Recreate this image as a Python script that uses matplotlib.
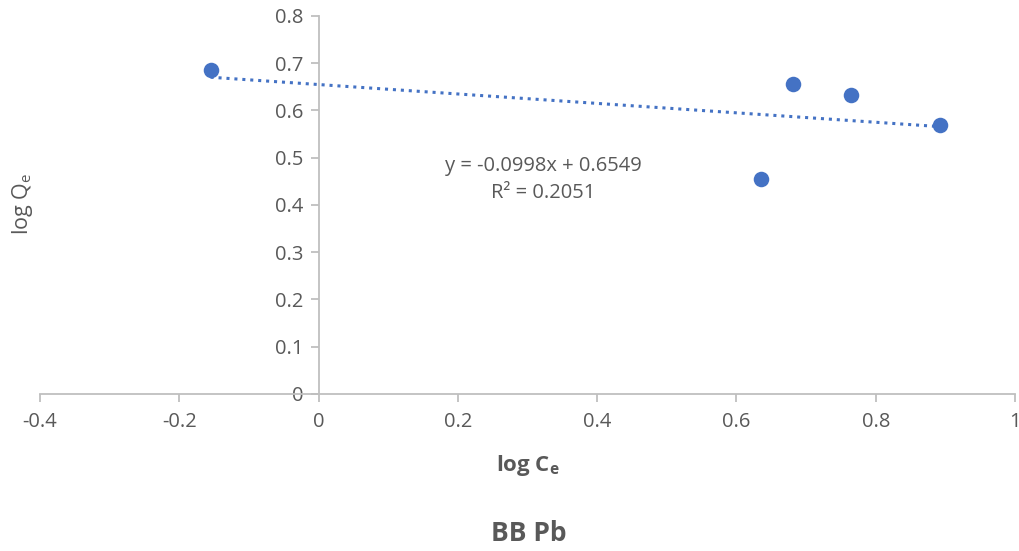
import matplotlib.pyplot as plt
import numpy as np

log_ce = [-0.155, 0.635, 0.681, 0.764, 0.892]
log_qe = [0.686, 0.455, 0.656, 0.633, 0.569]
slope = -0.0998
intercept = 0.6549
r_squared = 0.2051

x_ticks = [-0.4, -0.2, 0, 0.2, 0.4, 0.6, 0.8, 1]
y_ticks = [0, 0.1, 0.2, 0.3, 0.4, 0.5, 0.6, 0.7, 0.8]

blue = "#4472C4"
axis_grey = "#BFBFBF"
text_grey = "#595959"

plt.rcParams["font.family"] = ["Open Sans", "DejaVu Sans"]

fig = plt.figure(figsize=(10.2, 5.51), dpi=100)
ax = fig.add_axes([0.0392, 0.285, 0.9559, 0.686])

# linear trendline over the data range
xs = np.array([min(log_ce), max(log_ce)])
ax.plot(xs, slope * xs + intercept, color=blue, lw=2.2, ls=(0, (1, 1.6)), zorder=2)
ax.scatter(log_ce, log_qe, s=125, color=blue, zorder=3, linewidths=0)

ax.set_xlim(-0.4, 1)
ax.set_ylim(0, 0.8)
ax.set_xticks(x_ticks)
ax.set_yticks(y_ticks)
ax.set_xticklabels([f"{t:g}" for t in x_ticks])
ax.set_yticklabels([f"{t:g}" for t in y_ticks])

for side in ["top", "right"]:
    ax.spines[side].set_visible(False)
ax.spines["left"].set_position(("data", 0))
for side in ["left", "bottom"]:
    ax.spines[side].set_color(axis_grey)
    ax.spines[side].set_linewidth(1.3)
ax.tick_params(axis="both", colors=axis_grey, length=6, width=1.3,
               labelcolor=text_grey, labelsize=14.5)
ax.tick_params(axis="x", pad=7)
ax.tick_params(axis="y", pad=5)

ax.text(0.323, 0.454, f"y = {slope}x + {intercept}\nR² = {r_squared}",
        ha="center", va="center", fontsize=14.5, color=text_grey, linespacing=1.45)

fig.text(0.518, 0.155, "log C$_\\mathregular{e}$", ha="center", va="center",
         fontsize=16, fontweight="bold", color=text_grey)
fig.text(0.022, 0.63, "log Q$_\\mathregular{e}$", ha="center", va="center",
         rotation=90, fontsize=15.5, color=text_grey)
fig.text(0.518, 0.032, "BB Pb", ha="center", va="center",
         fontsize=19, fontweight="bold", color=text_grey)

fig.savefig("out.png", dpi=100)
